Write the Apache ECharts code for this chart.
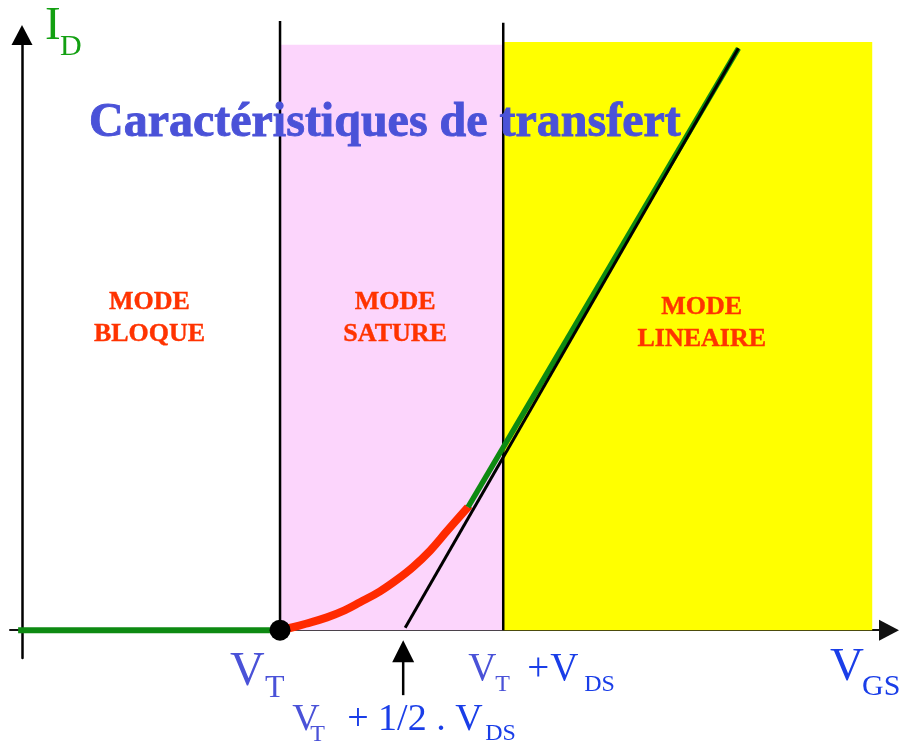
<!DOCTYPE html>
<html><head><meta charset="utf-8">
<script src="https://cdn.jsdelivr.net/npm/echarts@6/dist/echarts.min.js"></script>
<style>html,body{margin:0;padding:0;background:#fff}#c{width:899px;height:744px}</style>
</head><body><div id="c"></div>
<script>
// VGS on x (arbitrary units), ID on y (arbitrary units)
const VT = 2.0;
const VDS = 1.73;
const tangentFoot = 2.97;
const xMin = -0.093, xMax = 6.72;
const yMin = -0.48, yMax = 10.26;

// blocked mode: ID = 0
const offX = [-0.03, 2.0];
const offY = [0, 0];
// saturated mode curve (red)
const satX = [2.0, 2.10, 2.20, 2.364, 2.50, 2.62, 2.775, 2.90, 3.031, 3.163, 3.295, 3.457];
const satY = [0, 0.05, 0.11, 0.22, 0.34, 0.48, 0.67, 0.86, 1.09, 1.37, 1.71, 2.12];
// linear mode (green)
const linX = [3.457, 5.553];
const linY = [2.12, 10.03];
// tangent (black)
const tanX = [2.97, 5.553];
const tanY = [0.04, 10.03];
// region extents
const pinkTop = 10.09;
const yellowTop = 10.14;
const yellowRight = 6.59;
const vLineTops = [10.5, 10.47];
const modeLabels = ['MODE\nBLOQUE', 'MODE\nSATURE', 'MODE\nLINEAIRE'];
const titleText = 'Caractéristiques de transfert';

const zip = (a, b) => a.map((v, i) => [v, b[i]]);
const serif = '"Liberation Serif", "Times New Roman", serif';
const modeLabel = (txt, off) => ({
  show: true, position: 'inside', offset: off, formatter: txt,
  color: '#ff3300', fontFamily: serif, fontWeight: 'bold', fontSize: 26, lineHeight: 32,
  textBorderColor: '#ff3300', textBorderWidth: 0.4
});

const chart = echarts.init(document.getElementById('c'), null, {renderer: 'canvas'});
const axisCommon = {
  type: 'value', splitLine: {show: false}, axisTick: {show: false}, axisLabel: {show: false}
};
const option = {
  animation: false,
  title: {
    text: titleText, left: 89, top: 100, padding: 0,
    textStyle: {fontFamily: serif, fontWeight: 'bold', fontSize: 48, color: '#4a52d8',
      textBorderColor: '#4a52d8', textBorderWidth: 0.9}
  },
  grid: {left: 10, right: 10, top: 35, bottom: 86},
  xAxis: Object.assign({}, axisCommon, {
    min: xMin, max: xMax,
    axisLine: {onZero: true, symbol: ['none', 'triangle'], symbolSize: [21, 20],
      lineStyle: {color: '#111', width: 2}}
  }),
  yAxis: Object.assign({}, axisCommon, {
    min: yMin, max: yMax,
    axisLine: {onZero: true, symbol: ['none', 'triangle'], symbolSize: [21, 20],
      lineStyle: {color: '#000', width: 2.5}}
  }),
  series: [
    {
      type: 'line', z: 1, silent: true, symbol: 'none', data: [], clip: false,
      markArea: {
        silent: true,
        data: [
          [{xAxis: 0, yAxis: 0, itemStyle: {color: 'rgba(0,0,0,0)'}, label: modeLabel(modeLabels[0], [-1.5, -19.5])},
           {xAxis: VT, yAxis: pinkTop}],
          [{xAxis: VT, yAxis: 0, itemStyle: {color: '#fcd5fc'}, label: modeLabel(modeLabels[1], [3.5, -19.5])},
           {xAxis: VT + VDS, yAxis: pinkTop}],
          [{xAxis: VT + VDS, yAxis: 0, itemStyle: {color: '#ffff00'}, label: modeLabel(modeLabels[2], [14, -13])},
           {xAxis: yellowRight, yAxis: yellowTop}]
        ]
      }
    },
    {type: 'line', z: 3, symbol: 'none', clip: false, silent: true,
      data: [[VT, 0], [VT, vLineTops[0]]], lineStyle: {color: '#000', width: 2.5}},
    {type: 'line', z: 3, symbol: 'none', clip: false, silent: true,
      data: [[VT + VDS, 0], [VT + VDS, vLineTops[1]]], lineStyle: {color: '#000', width: 2.5}},
    {type: 'line', z: 4, symbol: 'none', silent: true,
      data: zip(offX, offY), lineStyle: {color: '#0d8a12', width: 6}},
    {type: 'line', z: 4, symbol: 'none', silent: true, smooth: 0.4,
      data: zip(satX, satY), lineStyle: {color: '#ff2a00', width: 8}},
    {type: 'line', z: 4, symbol: 'none', silent: true,
      data: zip(linX, linY), lineStyle: {color: '#0d8a12', width: 5.5}},
    {type: 'line', z: 5, symbol: 'none', silent: true,
      data: zip(tanX, tanY), lineStyle: {color: '#000', width: 3}},
    {type: 'scatter', z: 6, silent: true, symbolSize: 21,
      data: [[VT, 0]], itemStyle: {color: '#000', opacity: 1}}
  ]
};
chart.setOption(option);

const px = (x, y) => chart.convertToPixel({gridIndex: 0}, [x, y]);
const slate = '#4a52d8', bright = '#1a3ee8', green = '#13a012';
function txt(s, x, base, size, color) {
  const y = base - 0.3375 * size;
  return {type: 'text', x: x, y: y, z: 100, silent: true,
    style: {text: s, fill: color, font: size + 'px ' + serif,
      align: 'left', verticalAlign: 'middle', textAlign: 'left', textVerticalAlign: 'middle'}};
}
const pVT = px(VT, 0), pVD = px(VT + VDS, 0), pTF = px(tangentFoot, 0), pEnd = px(xMax, 0), pTop = px(0, yMax);
const ax = pTF[0] - 2;
const g = [
  {type: 'line', z: 50, silent: true, shape: {x1: ax, y1: pTF[1] + 30, x2: ax, y2: pTF[1] + 65},
    style: {stroke: '#000', lineWidth: 2.5}},
  {type: 'polygon', z: 50, silent: true,
    shape: {points: [[ax - 11, pTF[1] + 32], [ax + 11, pTF[1] + 32], [ax, pTF[1] + 10]]},
    style: {fill: '#000'}},
  txt('I', pTop[0] + 23, pTop[1] + 8, 47, green),
  txt('D', pTop[0] + 38, pTop[1] + 22, 30, green),
  txt('V', pVT[0] - 50, pVT[1] + 58, 48, slate),
  txt('T', pVT[0] - 15, pVT[1] + 69, 32, slate),
  txt('V', pTF[0] - 113, pTF[1] + 103, 38, slate),
  txt('T', pTF[0] - 95, pTF[1] + 113, 24, slate),
  txt('+ 1/2 . V', pTF[0] - 58, pTF[1] + 103, 38, bright),
  txt('DS', pTF[0] + 80, pTF[1] + 112, 24, bright),
  txt('V', pVD[0] - 35, pVD[1] + 53, 39, slate),
  txt('T', pVD[0] - 8, pVD[1] + 63, 24, slate),
  txt('+', pVD[0] + 24, pVD[1] + 53, 39, bright),
  txt('V', pVD[0] + 47, pVD[1] + 53, 39, bright),
  txt('DS', pVD[0] + 81, pVD[1] + 63, 24, bright),
  txt('V', pEnd[0] - 59, pEnd[1] + 53, 47, bright),
  txt('GS', pEnd[0] - 27, pEnd[1] + 67, 30, bright)
];
chart.setOption({graphic: {elements: g}});
</script>
</body></html>
